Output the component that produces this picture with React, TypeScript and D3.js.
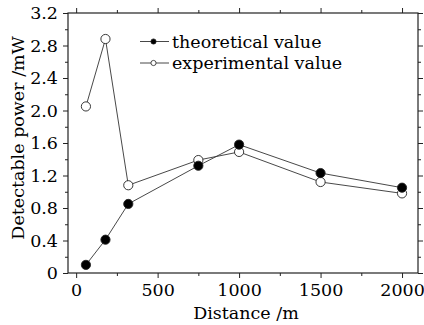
import React, { useEffect, useRef } from 'react';
import * as d3 from 'd3';

const distances = [60, 180, 320, 750, 1000, 1500, 2000];
const theoretical = [0.1, 0.41, 0.85, 1.32, 1.58, 1.23, 1.05];
const experimental = [2.05, 2.88, 1.08, 1.39, 1.49, 1.12, 0.98];
const xTicks = [0, 500, 1000, 1500, 2000];
const xMinor = [250, 750, 1250, 1750];
const yTicks = [0, 0.4, 0.8, 1.2, 1.6, 2.0, 2.4, 2.8, 3.2];
const yMinor = [0.2, 0.6, 1.0, 1.4, 1.8, 2.2, 2.6, 3.0];
const seriesNames = ['theoretical value', 'experimental value'];

const FONT = '"DejaVu Serif", serif';

const App: React.FC = () => {
  const svgRef = useRef<SVGSVGElement>(null);

  useEffect(() => {
    if (!svgRef.current) return;
    const width = 424;
    const height = 325;
    const margin = { top: 13, right: 6, bottom: 52, left: 68 };

    const svg = d3.select(svgRef.current);
    svg.selectAll('*').remove();

    const x = d3.scaleLinear()
      .domain([-50, 2098])
      .range([margin.left, width - margin.right]);
    const y = d3.scaleLinear()
      .domain([0, 3.2])
      .range([height - margin.bottom, margin.top]);

    const x0 = margin.left, x1 = width - margin.right;
    const y0 = height - margin.bottom, y1 = margin.top;

    const textStyle = (t: any) => t
      .attr('font-family', FONT)
      .attr('font-size', '17.5px')
      .attr('fill', '#000');

    const styleAxis = (g: any) => {
      g.select('.domain').remove();
      g.selectAll('line').attr('stroke', '#222').attr('stroke-width', 1);
      g.selectAll('text').call(textStyle);
    };

    // major + minor ticks on all four sides
    svg.append('g')
      .attr('transform', `translate(0,${y0})`)
      .call(d3.axisBottom(x).tickValues(xTicks).tickSize(5).tickPadding(6).tickFormat(d3.format('d')))
      .call(styleAxis);
    svg.append('g')
      .attr('transform', `translate(0,${y0})`)
      .call(d3.axisBottom(x).tickValues(xMinor).tickSize(3).tickFormat(() => ''))
      .call(styleAxis);
    svg.append('g')
      .attr('transform', `translate(0,${y1})`)
      .call(d3.axisTop(x).tickValues(xTicks).tickSize(5).tickFormat(() => ''))
      .call(styleAxis);
    svg.append('g')
      .attr('transform', `translate(0,${y1})`)
      .call(d3.axisTop(x).tickValues(xMinor).tickSize(3).tickFormat(() => ''))
      .call(styleAxis);

    svg.append('g')
      .attr('transform', `translate(${x0},0)`)
      .call(d3.axisLeft(y).tickValues(yTicks).tickSize(5).tickPadding(5)
        .tickFormat(d => (+d === 0 ? '0' : d3.format('.1f')(+d))))
      .call(styleAxis);
    svg.append('g')
      .attr('transform', `translate(${x0},0)`)
      .call(d3.axisLeft(y).tickValues(yMinor).tickSize(3).tickFormat(() => ''))
      .call(styleAxis);
    svg.append('g')
      .attr('transform', `translate(${x1},0)`)
      .call(d3.axisRight(y).tickValues(yTicks).tickSize(5).tickFormat(() => ''))
      .call(styleAxis);
    svg.append('g')
      .attr('transform', `translate(${x1},0)`)
      .call(d3.axisRight(y).tickValues(yMinor).tickSize(3).tickFormat(() => ''))
      .call(styleAxis);

    // frame
    svg.append('rect')
      .attr('x', x0).attr('y', y1)
      .attr('width', x1 - x0).attr('height', y0 - y1)
      .attr('fill', 'none').attr('stroke', '#222').attr('stroke-width', 1.2);

    const line = d3.line<number>()
      .x((_, i) => x(distances[i]))
      .y(d => y(d));

    const drawSeries = (vals: number[], filled: boolean) => {
      svg.append('path')
        .datum(vals)
        .attr('d', line)
        .attr('fill', 'none')
        .attr('stroke', '#333')
        .attr('stroke-width', 0.9);
      svg.append('g')
        .selectAll('circle')
        .data(vals)
        .join('circle')
        .attr('cx', (_, i) => x(distances[i]))
        .attr('cy', d => y(d))
        .attr('r', 4.6)
        .attr('fill', filled ? '#000' : '#fff')
        .attr('stroke', '#222')
        .attr('stroke-width', 0.9);
    };
    drawSeries(experimental, false);
    drawSeries(theoretical, true);

    // legend
    const legend = svg.append('g').attr('transform', 'translate(140,41.5)');
    seriesNames.forEach((name, i) => {
      const row = legend.append('g').attr('transform', `translate(0,${i * 21.5})`);
      row.append('line')
        .attr('x1', 0).attr('x2', 29).attr('y1', 0).attr('y2', 0)
        .attr('stroke', '#333').attr('stroke-width', 0.9);
      row.append('circle')
        .attr('cx', 13.5).attr('cy', 0).attr('r', 2.6)
        .attr('fill', i === 0 ? '#000' : '#fff')
        .attr('stroke', '#222').attr('stroke-width', 0.8);
      row.append('text')
        .attr('x', 32).attr('y', 6)
        .call(textStyle)
        .text(name);
    });

    // axis titles
    svg.append('text')
      .attr('x', (x0 + x1) / 2 + 3)
      .attr('y', 319)
      .attr('text-anchor', 'middle')
      .call(textStyle)
      .text('Distance /m');
    svg.append('text')
      .attr('transform', `translate(24,${(y0 + y1) / 2 - 5}) rotate(-90)`)
      .attr('text-anchor', 'middle')
      .call(textStyle)
      .text('Detectable power /mW');
  }, []);

  return (
    <svg
      ref={svgRef}
      width={424}
      height={325}
      viewBox="0 0 424 325"
      style={{ position: 'absolute', left: 0, top: 0, background: '#fff' }}
    />
  );
};

export default App;
